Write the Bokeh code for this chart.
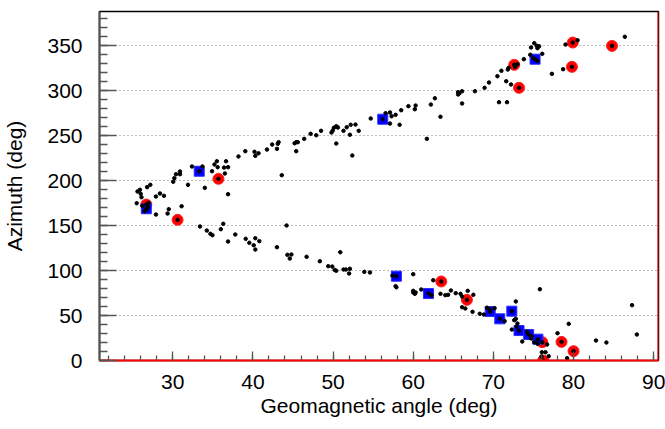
from bokeh.plotting import figure
from bokeh.models import Range1d, SingleIntervalTicker, Span
from bokeh.embed import file_html
from bokeh.resources import INLINE

# --- data (geomagnetic angle, azimuth), degrees ---
black_x = [25.5, 26.2, 27.0, 26.9, 26.5, 26.7, 25.9, 25.6, 26.0, 26.1, 27.2, 26.8,
           28.4, 28.9, 27.9, 31.1, 29.5, 29.35, 27.9,
           30.9, 30.9, 30.4, 30.2, 30.06, 31.9, 34.0, 36.9, 32.4, 33.7,
           35.5, 36.65, 35.2, 35.6, 36.4, 36.9, 34.9, 36.5,
           38.2, 39.05, 40.2, 40.7, 40.3, 41.75, 43.0, 42.4, 43.1, 43.2,
           45.2, 45.4, 45.6, 45.4, 43.6,
           46.4, 47.2, 47.9, 48.5, 49.8, 49.96, 50.1, 50.6, 50.4, 50.4,
           51.3, 51.7, 52.2, 52.8, 53.2, 52.1, 52.4,
           54.7, 56.55, 57.1, 57.1, 57.3, 57.8, 58.5, 58.3, 59.4, 60.3, 60.2,
           62.2, 62.7, 63.4, 61.7, 65.6, 65.75, 65.6, 66.1, 66.1, 67.7,
           68.9, 69.45, 70.5, 71.0, 71.6, 72.2, 70.7, 71.7,
           71.8, 71.9, 73.0, 72.7, 73.8, 74.6, 75.0, 75.5, 76.1,
           75.1, 75.4, 74.7, 75.7, 75.5, 77.3, 78.7, 79.0, 80.5, 86.4,
           33.4, 34.25, 34.7, 34.95, 36.3, 36.0, 36.9, 37.8,
           39.1, 39.55, 40.3, 40.8, 40.1, 40.3, 43.0, 44.2,
           44.3, 44.8, 44.6, 46.7, 48.35, 50.9,
           49.4, 49.9, 50.2, 50.4, 51.3, 51.6, 52.1, 52.0,
           53.9, 54.6, 57.4, 57.8, 57.9, 60.0,
           60.0, 60.3, 60.2, 60.0, 61.0, 62.3, 62.5,
           63.4, 64.0, 64.35, 64.7, 65.3, 65.9, 66.1, 66.8, 67.5,
           66.1, 66.5, 67.4, 68.3, 68.8, 69.2, 69.5, 70.15, 71.4, 72.8,
           72.6, 72.8, 73.0, 72.9, 72.3, 73.6,
           74.2, 74.75, 74.7, 75.5, 75.1, 76.7, 75.8,
           76.05, 76.5, 76.9, 76.0, 78.0, 79.4, 79.2,
           82.8, 84.1, 87.3, 87.9]
black_y = [174.8, 171.9, 175.2, 170.3, 165.9, 167.4, 189.7, 187.8, 185.2, 181.4, 195.2, 192.6,
           185.6, 183.0, 182.2, 171.4, 168.1, 163.3, 162.2,
           210.0, 207.0, 207.0, 202.6, 198.6, 195.2, 191.9, 184.8, 215.6, 215.6,
           221.4, 221.4, 217.8, 214.8, 214.4, 214.8, 210.3, 207.8,
           226.7, 232.6, 231.9, 230.3, 227.4, 234.4, 235.2, 240.0, 240.8, 242.6,
           241.4, 242.6, 242.6, 232.6, 205.9,
           246.3, 251.9, 250.3, 255.2, 253.3, 255.6, 258.6, 258.9, 260.3, 241.1,
           255.2, 259.2, 261.9, 262.2, 255.2, 250.8, 227.8,
           268.9, 274.8, 275.6, 263.3, 271.4, 273.0, 278.1, 261.9, 282.6, 283.3, 279.2,
           284.4, 291.4, 270.8, 246.3, 298.1, 297.0, 295.6, 299.2, 285.6, 299.2,
           303.0, 308.9, 315.9, 321.9, 310.3, 306.7, 287.0, 287.0,
           323.3, 325.2, 329.2, 326.3, 334.8, 339.7, 335.9, 333.0, 340.8,
           352.6, 349.7, 347.8, 349.2, 347.0, 318.5, 323.7, 351.1, 355.9, 359.7,
           148.9, 144.4, 140.8, 139.2, 151.9, 145.9, 132.2, 140.0,
           135.2, 130.8, 135.9, 132.6, 128.1, 123.3, 125.9, 150.0,
           117.4, 117.8, 113.3, 115.2, 110.3, 120.3,
           104.8, 104.4, 100.7, 99.7, 101.1, 101.1, 101.9, 96.7,
           98.5, 97.8, 94.4, 82.6, 81.4, 95.9,
           77.4, 75.6, 74.1, 75.6, 78.9, 72.6, 89.2,
           74.1, 72.6, 73.0, 77.8, 74.8, 74.1, 71.1, 77.4, 73.0,
           59.2, 57.8, 54.1, 51.9, 51.1, 58.6, 57.0, 58.1, 43.7, 65.6,
           44.8, 46.3, 41.1, 37.8, 34.4, 21.1,
           31.9, 27.0, 24.4, 18.6, 20.3, 17.8, 79.2,
           9.2, 9.2, 4.8, 4.4, 30.3, 40.7, 2.6,
           22.2, 20.0, 61.5, 28.9]

blue_x = [26.7, 33.3, 56.2, 75.2, 57.9, 61.9, 69.6, 70.8, 72.3, 73.2, 74.4, 75.55]
blue_y = [168.6, 210.3, 268.1, 334.8, 93.7, 74.4, 54.4, 46.3, 54.8, 33.3, 28.9, 23.7]

red_x = [26.7, 30.6, 35.7, 63.5, 66.7, 76.1, 76.2, 78.5, 80.0, 72.6, 73.2, 79.8, 79.9, 84.8]
red_y = [173.3, 156.3, 201.9, 87.8, 67.4, 20.3, 0.0, 20.7, 10.4, 328.6, 303.0, 326.3, 353.3, 349.6]

x_label = "Geomagnetic angle (deg)"
y_label = "Azimuth (deg)"

FONT = "Liberation Sans"

p = figure(width=665, height=429,
           x_range=Range1d(20.86, 90.6), y_range=Range1d(0, 387.8),
           output_backend="svg", toolbar_location=None,
           min_border_left=98, min_border_right=7, min_border_top=11, min_border_bottom=69,
           background_fill_color="white", border_fill_color="white")

p.outline_line_color = "black"
p.outline_line_width = 1.5

# grid
p.xgrid.visible = False
p.ygrid.grid_line_color = "#777777"
p.ygrid.grid_line_dash = "1 3"
p.ygrid.grid_line_width = 1

# axes
xa = p.xaxis[0]
ya = p.yaxis[0]
xa.ticker = SingleIntervalTicker(interval=10, num_minor_ticks=5)
ya.ticker = SingleIntervalTicker(interval=50, num_minor_ticks=5)
p.ygrid.ticker = ya.ticker

for ax in (xa, ya):
    ax.major_label_text_font = FONT
    ax.major_label_text_font_size = "21px"
    ax.major_label_text_color = "black"
    ax.axis_label_text_font = FONT
    ax.axis_label_text_font_size = "21px"
    ax.axis_label_text_font_style = "normal"
    ax.axis_label_text_color = "black"
    ax.major_tick_out = 0
    ax.minor_tick_out = 0
    ax.major_tick_line_color = "#555555"
    ax.minor_tick_line_color = "#555555"
    ax.major_tick_line_width = 1.3
    ax.minor_tick_line_width = 1.3

xa.axis_label = x_label
ya.axis_label = y_label
xa.axis_line_color = "red"
xa.axis_line_width = 2
ya.axis_line_color = "#555555"
ya.axis_line_width = 2
xa.major_tick_in = 9
xa.minor_tick_in = 5
ya.major_tick_in = 17
ya.minor_tick_in = 8
ya.major_label_standoff = 17
xa.major_label_standoff = 14
ya.axis_label_standoff = 18
xa.axis_label_standoff = 2

# right red border
p.add_layout(Span(location=90.6, dimension="height", line_color="red", line_width=2))

# markers
p.scatter(red_x, red_y, marker="circle", size=11, fill_color="#ff0000", line_color="#ff2020")
p.scatter(blue_x, blue_y, marker="square", size=10, fill_color="#0000ff", line_color="#2a2aff")
p.scatter(black_x, black_y, marker="circle", size=3.5, fill_color="black", line_color="black")
p.scatter(red_x, red_y, marker="circle", size=3.5, fill_color="black", line_color="black")
p.scatter(blue_x, blue_y, marker="circle", size=3.5, fill_color="black", line_color="black")

open("out.html", "w").write(file_html(p, INLINE))
